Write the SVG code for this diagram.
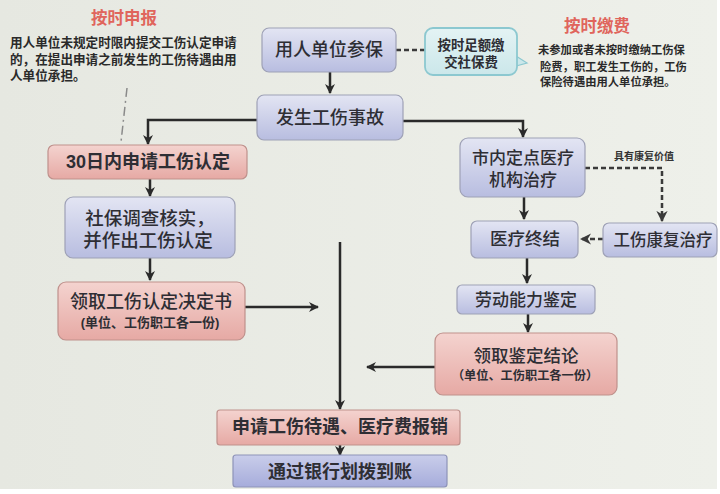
<svg xmlns="http://www.w3.org/2000/svg" width="720" height="494" viewBox="0 0 720 494">
<defs>
<linearGradient id="gBlue" x1="0" y1="0" x2="0" y2="1"><stop offset="0" stop-color="#e3e5f3"/><stop offset="1" stop-color="#b8bde0"/></linearGradient>
<linearGradient id="gBlue2" x1="0" y1="0" x2="0" y2="1"><stop offset="0" stop-color="#c9cdea"/><stop offset="1" stop-color="#a6acdb"/></linearGradient>
<linearGradient id="gPink" x1="0" y1="0" x2="0" y2="1"><stop offset="0" stop-color="#f4d3cf"/><stop offset="1" stop-color="#e6a9a4"/></linearGradient>
<linearGradient id="gCyan" x1="0" y1="0" x2="0" y2="1"><stop offset="0" stop-color="#e4f3f4"/><stop offset="1" stop-color="#cbe7ea"/></linearGradient>
<linearGradient id="gBg" x1="0" y1="0" x2="1" y2="0"><stop offset="0" stop-color="#e6e8e1"/><stop offset="1" stop-color="#eef0ea"/></linearGradient>
<marker id="arr" viewBox="0 0 10 10" refX="9" refY="5" markerWidth="4" markerHeight="4" orient="auto"><path d="M0,0 L10,5 L0,10 L3,5 z" fill="#2a2a2a"/></marker>
<marker id="arrD" viewBox="0 0 10 10" refX="9" refY="5" markerWidth="4.5" markerHeight="4.5" orient="auto"><path d="M0,0 L10,5 L0,10 L3,5 z" fill="#3a3a3a"/></marker>
</defs>
<style>
text{font-family:"Liberation Sans","Noto Sans CJK SC",sans-serif;fill:#2e2e34;}
.n{font-size:18px;font-weight:500;text-anchor:middle;dominant-baseline:central;}
.s{font-size:13px;font-weight:700;text-anchor:middle;dominant-baseline:central;}
.p{font-size:12.6px;font-weight:700;fill:#2a2a2a;}
.h{font-size:16.5px;font-weight:700;fill:#e0655c;text-anchor:middle;dominant-baseline:central;}
.blue{fill:url(#gBlue);stroke:#9ea1b6;stroke-width:1.2;}
.blue2{fill:url(#gBlue2);stroke:#8e93b8;stroke-width:1.2;}
.pink{fill:url(#gPink);stroke:#bf918c;stroke-width:1.2;}
.cyan{fill:url(#gCyan);stroke:#8cc8d0;stroke-width:1.8;}
.c{fill:none;stroke:#2a2a2a;stroke-width:2.5;}
.d{fill:none;stroke:#3a3a3a;stroke-width:2.5;stroke-dasharray:5 3;}
</style>
<rect width="720" height="494" fill="#ffffff"/>
<rect x="0" y="0" width="717" height="489" fill="url(#gBg)"/>

<g id="note-left">
<text class="h" x="124" y="18">按时申报</text>
<text class="p"><tspan x="10" y="47">用人单位未规定时限内提交工伤认定申请</tspan><tspan x="10" y="64">的，在提出申请之前发生的工伤待遇由用</tspan><tspan x="10" y="80">人单位承担。</tspan></text>
</g>
<g id="note-right">
<text class="h" x="597" y="26">按时缴费</text>
<text class="p" style="font-size:11.3px"><tspan x="538" y="54">未参加或者未按时缴纳工伤保</tspan><tspan x="540" y="71">险费，职工发生工伤的，工伤</tspan><tspan x="540" y="86">保险待遇由用人单位承担。</tspan></text>
</g>

<g id="connectors">
<path class="c" d="M330,72 V93" marker-end="url(#arr)"/>
<path class="c" d="M258,120 H148 V144" marker-end="url(#arr)"/>
<path class="c" d="M403,121 H523 V137" marker-end="url(#arr)"/>
<path class="c" d="M150,179 V196" marker-end="url(#arr)"/>
<path class="c" d="M150,258 V280" marker-end="url(#arr)"/>
<path class="c" d="M245,307 H318" marker-end="url(#arr)"/>
<path class="c" d="M340,242 V409" marker-end="url(#arr)"/>
<path class="c" d="M435,367 H367" marker-end="url(#arr)"/>
<path class="c" d="M340,445 V455" marker-end="url(#arr)"/>
<path class="c" d="M524,197 V219" marker-end="url(#arr)"/>
<path class="c" d="M527,258 V283" marker-end="url(#arr)"/>
<path class="c" d="M528,314 V332" marker-end="url(#arr)"/>
<path class="d" d="M585,168 H662 V221" marker-end="url(#arrD)"/>
<path class="d" d="M603,239 H581" marker-end="url(#arrD)"/>
<path class="d" d="M396,50 H425"/>
<path d="M127,88 L121,142" fill="none" stroke="#8a8a8a" stroke-width="1.5" stroke-dasharray="9 4 2 4"/>
<text x="644" y="156" style="font-size:10px;font-weight:700;text-anchor:middle;dominant-baseline:central;fill:#333">具有康复价值</text>
</g>

<g id="n-canbao">
<rect class="blue" x="262" y="28" width="134" height="44" rx="7"/>
<text class="n" x="329" y="50">用人单位参保</text>
</g>
<g id="n-jiaofei">
<path d="M516,56 L527,63 L516,66 z" fill="#cbe7ea" stroke="#8cc8d0" stroke-width="1.2"/>
<rect class="cyan" x="425" y="28" width="92" height="47" rx="8"/>
<text class="s" style="font-size:13.4px"><tspan x="471" y="45">按时足额缴</tspan><tspan x="471" y="62">交社保费</tspan></text>
</g>
<g id="n-shigu">
<rect class="blue" x="257" y="95" width="146" height="45" rx="7"/>
<text class="n" x="330" y="118">发生工伤事故</text>
</g>
<g id="n-shenqing">
<rect class="pink" x="48" y="145" width="199" height="34" rx="6"/>
<text class="n" x="148" y="162" style="font-weight:700">30日内申请工伤认定</text>
</g>
<g id="n-diaocha">
<rect class="blue" x="65" y="197" width="170" height="61" rx="8"/>
<text class="n" style="font-size:18.5px"><tspan x="150" y="218">社保调查核实，</tspan><tspan x="148" y="240">并作出工伤认定</tspan></text>
</g>
<g id="n-jueding">
<rect class="pink" x="58" y="282" width="187" height="58" rx="8"/>
<text class="n" x="151" y="302">领取工伤认定决定书</text>
<text class="s" x="150" y="322">(单位、工伤职工各一份)</text>
</g>
<g id="n-yiliao">
<rect class="blue" x="460" y="138" width="125" height="59" rx="8"/>
<text class="n" style="font-size:17px"><tspan x="523" y="158">市内定点医疗</tspan><tspan x="523" y="180">机构治疗</tspan></text>
</g>
<g id="n-zhongjie">
<rect class="blue" x="471" y="221" width="107" height="37" rx="6"/>
<text class="n" x="525" y="239" style="font-size:17.5px">医疗终结</text>
</g>
<g id="n-kangfu">
<rect class="blue" x="603" y="223" width="114" height="34" rx="6"/>
<text class="n" x="663" y="240" style="font-size:16.5px">工伤康复治疗</text>
</g>
<g id="n-jianding">
<rect class="blue" x="457" y="285" width="138" height="29" rx="5"/>
<text class="n" x="526" y="300" style="font-size:17px">劳动能力鉴定</text>
</g>
<g id="n-jielun">
<rect class="pink" x="435" y="333" width="182" height="62" rx="8"/>
<text class="n" x="526" y="356" style="font-size:17.5px">领取鉴定结论</text>
<text class="s" x="525" y="376" style="font-size:12.2px">（单位、工伤职工各一份）</text>
</g>
<g id="n-daiyu">
<rect class="pink" x="217" y="410" width="243" height="35" rx="3"/>
<text class="n" x="340" y="427" style="font-weight:700">申请工伤待遇、医疗费报销</text>
</g>
<g id="n-daozhang">
<rect class="blue2" x="233" y="455" width="214" height="32" rx="3"/>
<text class="n" x="340" y="472" style="font-weight:700">通过银行划拨到账</text>
</g>
</svg>
